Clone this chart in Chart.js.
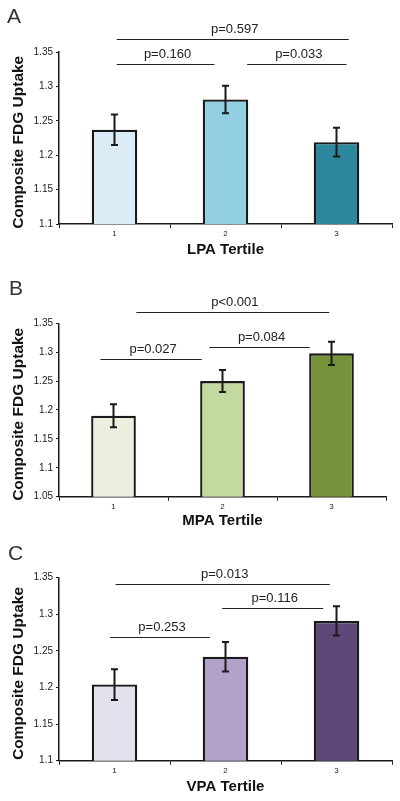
<!DOCTYPE html>
<html>
<head>
<meta charset="utf-8">
<script src="https://cdn.jsdelivr.net/npm/chart.js@4/dist/chart.umd.min.js"></script>
<style>
  html, body { margin: 0; padding: 0; background: #fff; }
  body { width: 400px; height: 801px; position: relative; overflow: hidden; }
  .panel { position: absolute; left: 0; width: 400px; }
</style>
</head>
<body>
<div class="panel" id="pA" style="top:0;height:270px"><canvas id="cA"></canvas></div>
<div class="panel" id="pB" style="top:270px;height:265px"><canvas id="cB"></canvas></div>
<div class="panel" id="pC" style="top:535px;height:266px"><canvas id="cC"></canvas></div>
<script>
// ---- data ----
const categories = ['1', '2', '3'];

const lpaMeans = [1.237, 1.281, 1.219];
const lpaErrors = [0.022, 0.020, 0.021];
const lpaPvalues = ['p=0.597', 'p=0.160', 'p=0.033'];
const lpaBrackets = [[0.02, 2.11, 1.369], [0.02, 0.90, 1.333], [1.195, 2.09, 1.333]];
const lpaRange = [1.1, 1.35];

const mpaMeans = [1.190, 1.250, 1.298];
const mpaErrors = [0.020, 0.019, 0.020];
const mpaPvalues = ['p<0.001', 'p=0.027', 'p=0.084'];
const mpaBrackets = [[0.21, 1.98, 1.370], [-0.12, 0.81, 1.289], [0.88, 1.80, 1.3085]];
const mpaRange = [1.05, 1.35];

const vpaMeans = [1.204, 1.242, 1.291];
const vpaErrors = [0.021, 0.020, 0.020];
const vpaPvalues = ['p=0.013', 'p=0.116', 'p=0.253'];
const vpaBrackets = [[0.01, 1.94, 1.341], [0.97, 1.88, 1.309], [-0.04, 0.86, 1.269]];
const vpaRange = [1.1, 1.35];

// ---- drawing ----
const FONT = '"Liberation Sans", Arial, Helvetica, sans-serif';

const overlayPlugin = {
  id: 'overlay',
  afterDatasetsDraw(chart, args, opts) {
    const ctx = chart.ctx;
    const x = chart.scales.x, y = chart.scales.y;
    const meta = chart.getDatasetMeta(0);
    ctx.save();
    // error bars
    ctx.strokeStyle = '#1a1a1a';
    ctx.lineWidth = 2;
    opts.errors.forEach((e, i) => {
      const m = opts.means[i];
      const px = meta.data[i].x;
      const yt = y.getPixelForValue(m + e), yb = y.getPixelForValue(m - e);
      ctx.beginPath();
      ctx.moveTo(px, yt); ctx.lineTo(px, yb);
      ctx.moveTo(px - 3.5, yt); ctx.lineTo(px + 3.5, yt);
      ctx.moveTo(px - 3.5, yb); ctx.lineTo(px + 3.5, yb);
      ctx.stroke();
    });
    // significance brackets
    ctx.lineWidth = 1;
    ctx.strokeStyle = '#222';
    ctx.fillStyle = '#222';
    ctx.font = '13px ' + FONT;
    ctx.textAlign = 'center';
    ctx.textBaseline = 'alphabetic';
    const step = x.getPixelForValue(1) - x.getPixelForValue(0);
    const x0 = x.getPixelForValue(0);
    opts.brackets.forEach((b, i) => {
      const xa = x0 + b[0] * step, xb = x0 + b[1] * step;
      const py = Math.round(y.getPixelForValue(b[2])) + 0.5;
      ctx.beginPath(); ctx.moveTo(xa, py); ctx.lineTo(xb, py); ctx.stroke();
      ctx.fillText(opts.pvalues[i], (xa + xb) / 2 + 2, py - 7);
    });
    // panel letter
    ctx.font = '21px ' + FONT;
    ctx.textAlign = 'left';
    ctx.fillStyle = '#333';
    ctx.fillText(opts.letter, opts.letterX, opts.letterY);
    ctx.restore();
  }
};

function makeChart(id, cfg) {
  const H = cfg.height;
  return new Chart(document.getElementById(id), {
    type: 'bar',
    data: {
      labels: categories,
      datasets: [{
        data: cfg.means,
        backgroundColor: cfg.colors,
        borderColor: '#1a1a1a',
        borderWidth: 2.3,
        barPercentage: 0.41,
        categoryPercentage: 1.0
      }]
    },
    options: {
      responsive: true,
      maintainAspectRatio: false,
      animation: false,
      events: [],
      layout: { padding: { top: cfg.top, right: 400 - cfg.right, left: 0, bottom: 0 } },
      plugins: {
        legend: { display: false },
        tooltip: { enabled: false },
        overlay: {
          means: cfg.means, errors: cfg.errors, brackets: cfg.brackets, pvalues: cfg.pvalues,
          letter: cfg.letter, letterX: cfg.letterX, letterY: cfg.letterY
        }
      },
      scales: {
        x: {
          afterFit(s) { s.height = H - cfg.bottom; },
          grid: { display: true, drawOnChartArea: false, drawTicks: true, tickLength: 4, color: '#1a1a1a', lineWidth: 1, offset: true },
          border: { display: true, color: '#1a1a1a', width: 1.5 },
          ticks: { color: '#222', font: { family: FONT, size: 8 }, padding: 1, maxRotation: 0 },
          title: { display: true, text: cfg.xTitle, color: '#111', font: { family: FONT, size: 15, weight: 'bold' }, padding: { top: 0, bottom: cfg.xTitlePad } }
        },
        y: {
          min: cfg.range[0], max: cfg.range[1],
          afterFit(s) { s.width = 59; },
          grid: { display: true, drawOnChartArea: false, drawTicks: true, tickLength: 3, color: '#1a1a1a', lineWidth: 1 },
          border: { display: true, color: '#1a1a1a', width: 1.5 },
          ticks: {
            stepSize: 0.05, color: '#222', font: { family: FONT, size: 10 }, padding: 3,
            callback: v => String(Number(v.toFixed(2)))
          },
          title: { display: true, text: 'Composite FDG Uptake  ', color: '#111', font: { family: FONT, size: 15.5, weight: 'bold' }, padding: { top: 9, bottom: 0 } }
        }
      }
    },
    plugins: [overlayPlugin]
  });
}

makeChart('cA', {
  height: 270, top: 52, bottom: 224, right: 392,
  means: lpaMeans, errors: lpaErrors, brackets: lpaBrackets, pvalues: lpaPvalues, range: lpaRange,
  colors: ['#dbecf7', '#93cfe2', '#2d879d'], xTitle: 'LPA Tertile', xTitlePad: 11,
  letter: 'A', letterX: 7, letterY: 23
});
makeChart('cB', {
  height: 265, top: 53.3, bottom: 226.7, right: 386,
  means: mpaMeans, errors: mpaErrors, brackets: mpaBrackets, pvalues: mpaPvalues, range: mpaRange,
  colors: ['#ebf0de', '#c3d9a0', '#76923b'], xTitle: 'MPA Tertile', xTitlePad: 5,
  letter: 'B', letterX: 9, letterY: 25
});
makeChart('cC', {
  height: 266, top: 42.7, bottom: 225.7, right: 392,
  means: vpaMeans, errors: vpaErrors, brackets: vpaBrackets, pvalues: vpaPvalues, range: vpaRange,
  colors: ['#e5e0ed', '#b2a1c8', '#5f4879'], xTitle: 'VPA Tertile', xTitlePad: 5,
  letter: 'C', letterX: 8, letterY: 25
});
</script>
</body>
</html>
